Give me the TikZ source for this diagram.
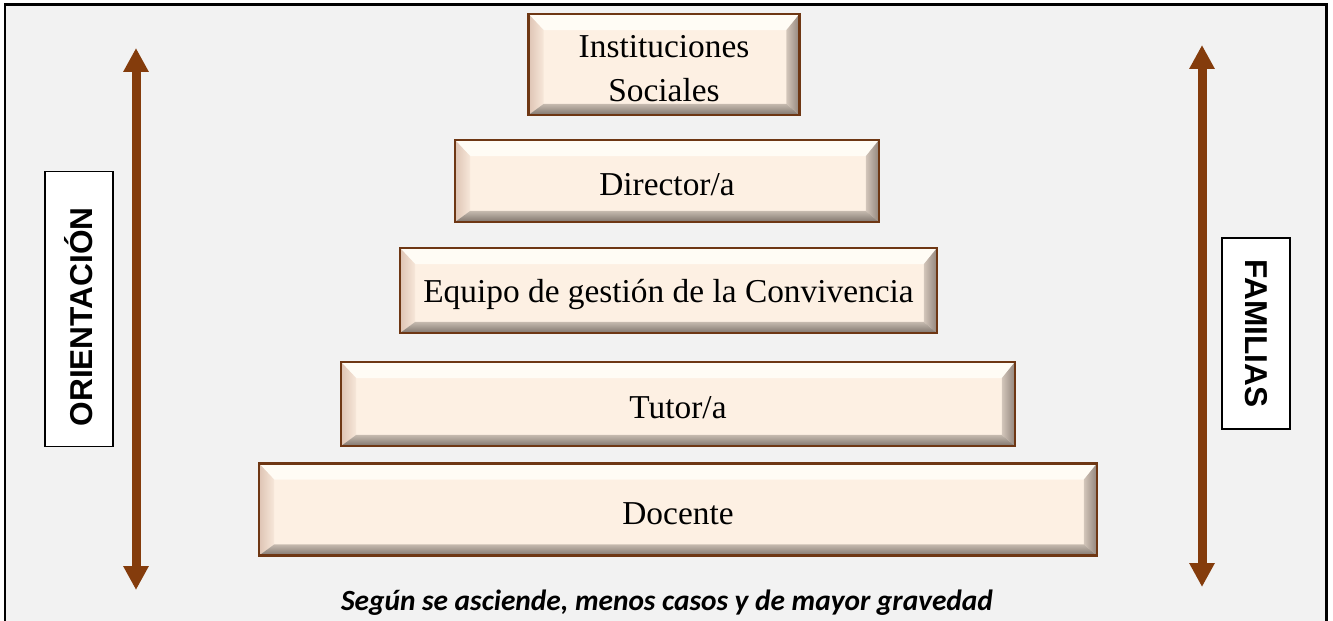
\documentclass[tikz,border=0pt]{standalone}
\usepackage{fontspec}
\setmainfont{Liberation Serif}
\setsansfont{Liberation Sans}
\newfontfamily\calibrifont{Carlito}
\usetikzlibrary{arrows.meta}
\usetikzlibrary{positioning}
\definecolor{boxfill}{RGB}{253,240,227}
\definecolor{boxedge}{RGB}{110,55,20}
\definecolor{bevtop}{RGB}{255,252,245}
\definecolor{bevleft}{RGB}{222,196,180}
\definecolor{bevright}{RGB}{146,133,124}
\definecolor{bevbottom}{RGB}{128,118,110}
\definecolor{arrowbrown}{RGB}{132,60,12}
\definecolor{panel}{RGB}{242,242,242}
\newcommand\lowtext[1]{\raisebox{0pt}[\dimexpr\height+4.5pt\relax]{#1}}
\tikzset{level/.style = {draw=boxedge, line width=1.3pt, fill=boxfill,
                         inner sep=0, align=center,
                         font=\fontsize{19}{25}\selectfont,
                         path picture={
                           \fill[bevtop] (path picture bounding box.north west) -- (path picture bounding box.north east)
                             -- ([xshift=-2.6mm,yshift=-3.2mm]path picture bounding box.north east)
                             -- ([xshift=3mm,yshift=-3.2mm]path picture bounding box.north west) -- cycle;
                           \shade[left color=bevleft, right color=boxfill!80!bevleft] (path picture bounding box.north west)
                             -- ([xshift=3mm,yshift=-3.2mm]path picture bounding box.north west)
                             -- ([xshift=3mm,yshift=2.2mm]path picture bounding box.south west)
                             -- (path picture bounding box.south west) -- cycle;
                           \shade[left color=boxfill!60!bevright, right color=bevright] (path picture bounding box.north east)
                             -- ([xshift=-2.6mm,yshift=-3.2mm]path picture bounding box.north east)
                             -- ([xshift=-2.6mm,yshift=2.2mm]path picture bounding box.south east)
                             -- (path picture bounding box.south east) -- cycle;
                           \shade[top color=boxfill!55!bevbottom, bottom color=bevbottom] (path picture bounding box.south west)
                             -- ([xshift=3mm,yshift=2.2mm]path picture bounding box.south west)
                             -- ([xshift=-2.6mm,yshift=2.2mm]path picture bounding box.south east)
                             -- (path picture bounding box.south east) -- cycle;}}}
\tikzset{sidebox/.style = {draw=black, line width=1.1pt, fill=white, inner sep=0,
                           font=\sffamily\bfseries\fontsize{18}{21}\selectfont}}
\tikzset{updown/.style = {arrowbrown, line width=0.18cm,
                          {Triangle[width=0.48cm,length=0.48cm]}-{Triangle[width=0.48cm,length=0.48cm]}}}
\begin{document}
\begin{tikzpicture}[x=0.02cm, y=-0.02cm]
  \useasboundingbox (0,0) rectangle (1333,621);
  \fill[white] (0,0) rectangle (1333,621);
  \fill[panel] (5,5) rectangle (1326,621);
  \draw[line width=0.06cm] (5,621) -- (5,5) -- (1326,5) -- (1326,621);

  \node[level, minimum width=5.42cm, minimum height=2.02cm] (social) at (664,64.5)
       {\lowtext{Instituciones}\\Sociales};
  \node[level, minimum width=8.48cm, minimum height=1.64cm] (director) at (667,181)
       {\lowtext{Director/a}};
  \node[level, minimum width=10.74cm, minimum height=1.70cm] (equipo) at (668.5,290.5)
       {\lowtext{Equipo de gestión de la Convivencia}};
  \node[level, minimum width=13.48cm, minimum height=1.68cm] (tutor) at (678,404)
       {\lowtext{Tutor/a}};
  \node[level, minimum width=16.76cm, minimum height=1.84cm] (docente) at (678,509.5)
       {\lowtext{Docente}};

  \node[sidebox, minimum width=1.36cm, minimum height=5.5cm] (orienta) at (79,309)
       {\rotatebox{90}{ORIENTACIÓN\hspace{9pt}}};
  \node[sidebox, minimum width=1.36cm, minimum height=3.82cm] (familia) at (1256,333.5)
       {\rotatebox{-90}{FAMILIAS}};

  \coordinate (ortop) at (136,48);
  \coordinate (orbot) at (136,590);
  \coordinate (famtop) at (1202,45);
  \coordinate (fambot) at (1202,587);
  \draw[updown] (orbot) -- (ortop);
  \draw[updown] (fambot) -- (famtop);

  \node[font=\calibrifont\bfseries\itshape\fontsize{16.7}{19}\selectfont] (nota) at (667,603)
       {Según se asciende, menos casos y de mayor gravedad};
\end{tikzpicture}
\end{document}
